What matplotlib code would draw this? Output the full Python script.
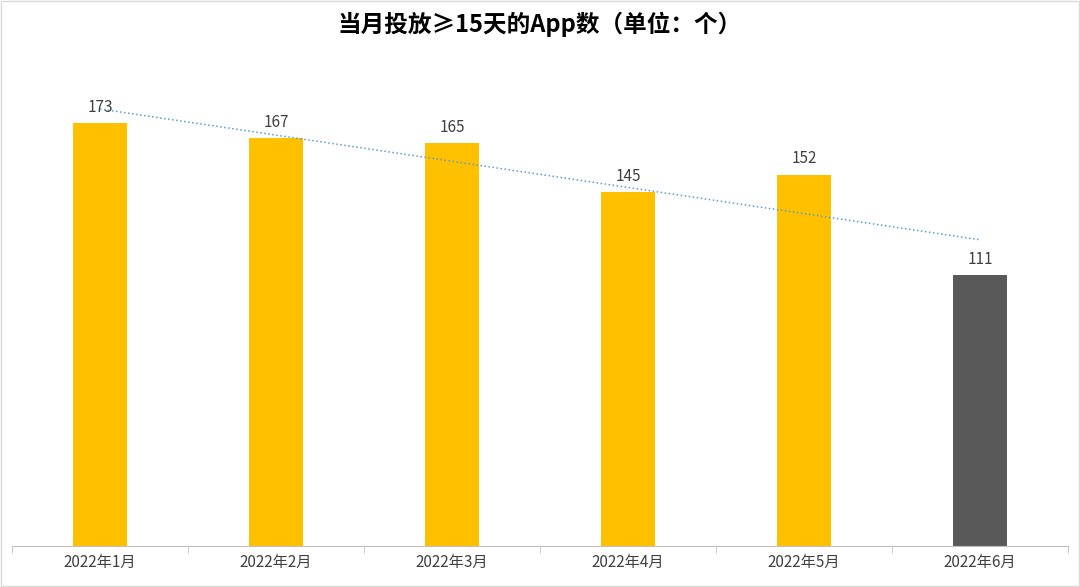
import matplotlib
matplotlib.use("Agg")
import matplotlib.pyplot as plt
import numpy as np

plt.rcParams['font.family'] = ['Noto Sans CJK SC', 'DejaVu Sans']

categories = ["2022年1月", "2022年2月", "2022年3月", "2022年4月", "2022年5月", "2022年6月"]
values = [173, 167, 165, 145, 152, 111]
colors = ["#FFC000"] * 5 + ["#595959"]

fig = plt.figure(figsize=(10.8, 5.87), dpi=100)
ax = fig.add_axes([12/1080, 41/587, 1056/1080, 486/587])
x = np.arange(len(categories))
ax.bar(x, values, width=0.31, color=colors, zorder=2)
for xi, v in zip(x, values):
    ax.text(xi, v + 3, str(v), ha='center', va='bottom', fontsize=11, color='#404040')
m, b = np.polyfit(x, values, 1)
ax.plot(x, m * x + b, linestyle=':', color='#5B9BD5', linewidth=1.1, zorder=3)

ax.set_xlim(-0.5, len(categories) - 0.5)
ax.set_ylim(0, 199)
ax.set_yticks([])
for s in ['top', 'left', 'right']:
    ax.spines[s].set_visible(False)
ax.spines['bottom'].set_color('#BFBFBF')
ax.set_xticks(x)
ax.set_xticklabels(categories, fontsize=11, color='#404040')
ax.tick_params(axis='x', length=0, pad=6)
ax.set_xticks(np.arange(-0.5, len(categories)), minor=True)
ax.tick_params(axis='x', which='minor', length=5, color='#BFBFBF')

fig.text(0.5, 1 - 24/587, "当月投放≥15天的App数（单位：个）", ha='center', va='center',
         fontsize=17, fontweight='bold', color='#000000')
fig.patches.append(plt.Rectangle((0.001, 0.001), 0.998, 0.998, transform=fig.transFigure,
                                 fill=False, edgecolor='#D9D9D9', linewidth=1))
fig.savefig("out.png", dpi=100)
